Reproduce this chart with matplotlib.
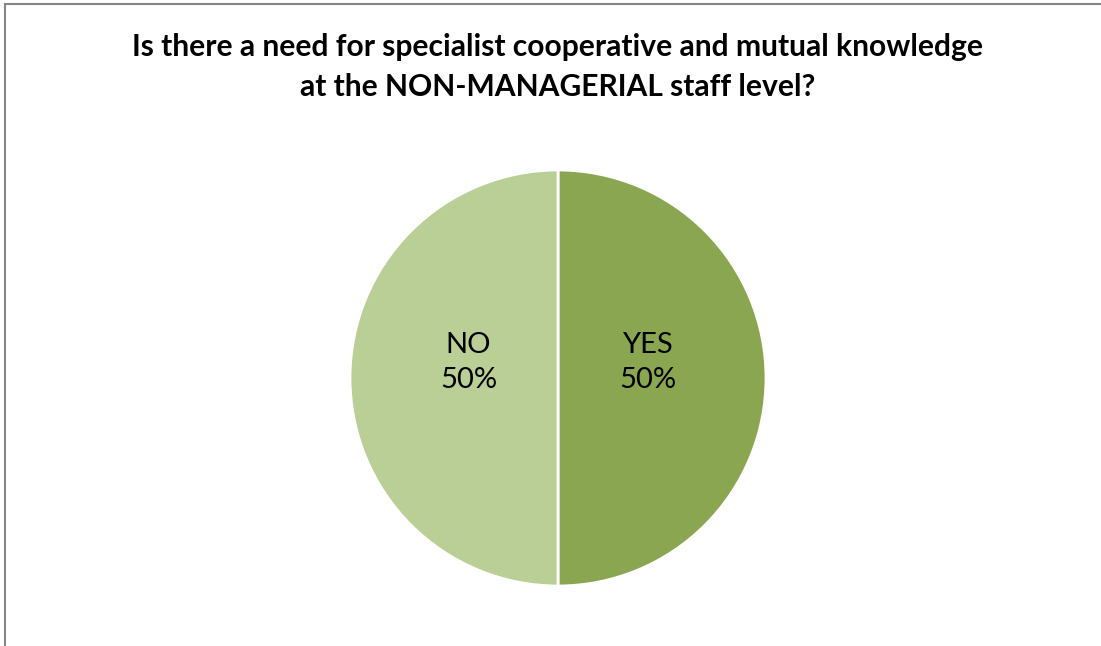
import matplotlib.pyplot as plt
from matplotlib.patches import Rectangle

labels = ['YES', 'NO']
shares = [50, 50]
colors = ['#8BA650', '#B9CF95']
title = ('Is there a need for specialist cooperative and mutual knowledge\n'
         'at the NON-MANAGERIAL staff level?')

plt.rcParams['font.family'] = ['Lato', 'DejaVu Sans']

fig = plt.figure(figsize=(11.01, 6.46), dpi=100)

# chart frame
fig.patches.append(Rectangle((5 / 1101, -0.01), 1.2, (646 - 4) / 646 + 0.01,
                             transform=fig.transFigure, fill=False,
                             edgecolor='#868686', linewidth=1.5))

fig.text(558 / 1101, 1 - 67 / 646, title, ha='center', va='center',
         fontsize=21.6, fontweight='bold', linespacing=1.5)

ax = fig.add_axes([(558 - 208) / 1101, (646 - 586) / 646, 416 / 1101, 416 / 646])
wedges, texts, autotexts = ax.pie(
    shares, colors=colors, startangle=90, counterclock=False,
    autopct='%1.0f%%', pctdistance=0.43,
    wedgeprops=dict(edgecolor='white', linewidth=2))
for lab, t in zip(labels, autotexts):
    x, y = t.get_position()
    t.set_position((x, y + 0.075))
    t.set_text(f'{lab}\n{t.get_text()}')
    t.set_fontsize(21)
    t.set_linespacing(1.45)
    t.set_ha('center')
ax.set_xlim(-1, 1)
ax.set_ylim(-1, 1)
ax.set_aspect('auto')

fig.savefig('out.png', dpi=100)
